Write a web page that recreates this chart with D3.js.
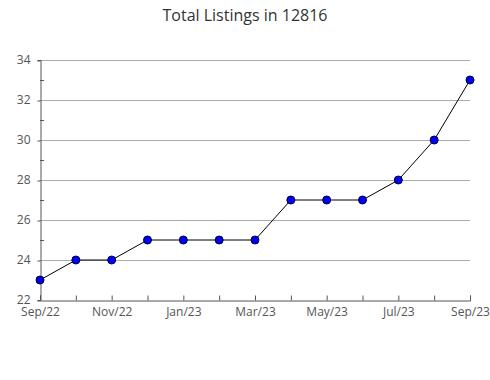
<!DOCTYPE html>
<html><head><meta charset="utf-8">
<script src="https://cdn.jsdelivr.net/npm/d3@7"></script>
<style>body{margin:0;background:#fff}svg{display:block}text{font-family:"Open Sans",sans-serif}</style>
</head><body><svg id="c" width="490" height="380"></svg>
<script>
const months = ["Sep/22","Oct/22","Nov/22","Dec/22","Jan/23","Feb/23","Mar/23","Apr/23","May/23","Jun/23","Jul/23","Aug/23","Sep/23"];
const listings = [23,24,24,25,25,25,25,27,27,27,28,30,33];
const yTicks = [22,24,26,28,30,32,34];
const yMinor = [23,25,27,29,31,33];
const title = "Total Listings in 12816";

const svg = d3.select("#c");
const m = {l:40, r:470, t:60, b:300};
const x = d3.scalePoint().domain(months).range([m.l, m.r]);
const y = d3.scaleLinear().domain([22,34]).range([m.b, m.t]);

svg.append("text").attr("x",245).attr("y",21).attr("text-anchor","middle")
  .attr("font-size",16).attr("fill","#333").text(title);

// grid
svg.append("g").selectAll("line").data(yTicks.slice(1)).join("line")
  .attr("x1",m.l).attr("x2",m.r).attr("y1",d=>y(d)+0.5).attr("y2",d=>y(d)+0.5)
  .attr("stroke","#aaa").attr("stroke-width",1);

// y axis
const ya = svg.append("g").attr("transform",`translate(${m.l+0.5},0)`)
  .call(d3.axisLeft(y).tickValues(yTicks).tickSize(3).tickFormat(d3.format("d")));
ya.select(".domain").attr("stroke","#555");
ya.selectAll(".tick line").attr("stroke","#555").attr("transform","translate(0,0.5)");
ya.selectAll(".tick text").attr("font-size",12).attr("fill","#555").attr("x",-10).attr("dy","0.3em")
  .style("font-family","'Open Sans',sans-serif");
svg.append("g").selectAll("line").data(yMinor).join("line")
  .attr("x1",m.l).attr("x2",m.l+4).attr("y1",d=>y(d)+0.5).attr("y2",d=>y(d)+0.5)
  .attr("stroke","#555");

// x axis
const xa = svg.append("g").attr("transform",`translate(0,${m.b+0.5})`)
  .call(d3.axisBottom(x).tickSize(-5).tickFormat((d,i)=> i%2===0 ? d : ""));
xa.select(".domain").attr("stroke","#555");
xa.selectAll(".tick line").attr("stroke","#555");
xa.selectAll(".tick text").attr("font-size",12).attr("fill","#555").attr("y",7).attr("dy","0.71em")
  .style("font-family","'Open Sans',sans-serif");

// line
svg.append("path").datum(listings)
  .attr("d", d3.line().x((d,i)=>x(months[i])).y(d=>y(d)))
  .attr("fill","none").attr("stroke","#000").attr("stroke-width",1);

svg.append("g").selectAll("circle").data(listings).join("circle")
  .attr("cx",(d,i)=>x(months[i])).attr("cy",d=>y(d)).attr("r",4)
  .attr("fill","#0000ff").attr("stroke","#000033").attr("stroke-width",1);
</script></body></html>
